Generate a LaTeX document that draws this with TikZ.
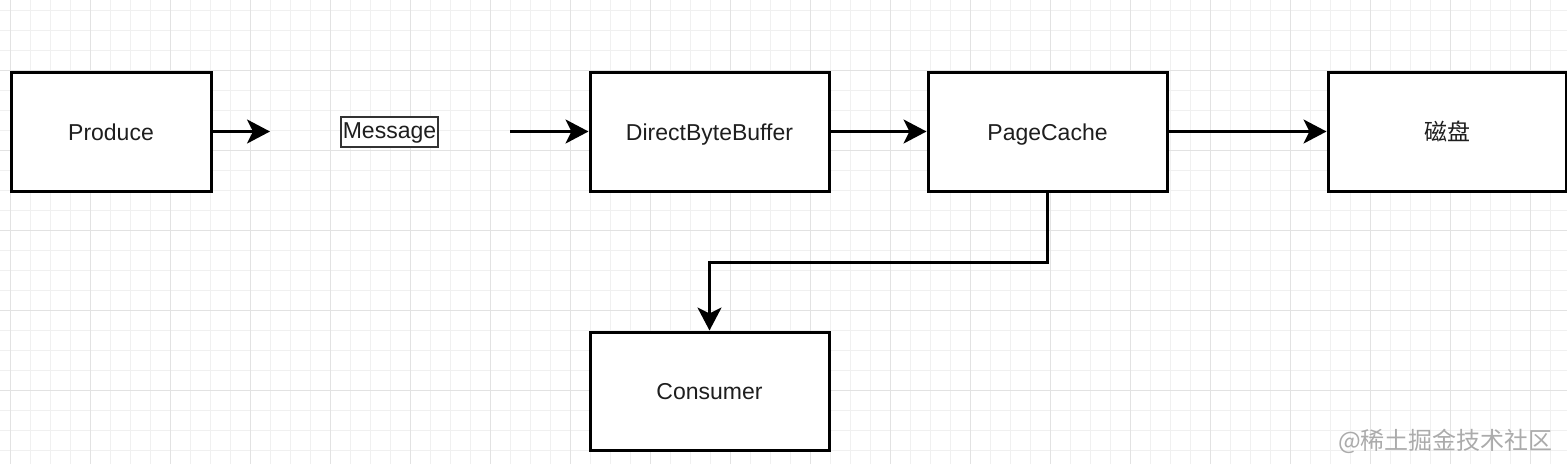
\documentclass[tikz,border=0pt]{standalone}
\usepackage{fontspec}
\setmainfont{Liberation Sans}
\newfontfamily\cjk{Noto Sans CJK SC}
\usetikzlibrary{arrows.meta}
\definecolor{gridminor}{HTML}{F0F0F0}
\definecolor{gridmajor}{HTML}{E2E2E2}
\definecolor{txt}{HTML}{1E1E1E}
\definecolor{wm}{HTML}{ABABAB}
\tikzset{
  box/.style={draw=black, line width=3pt, fill=white, inner sep=0pt,
    text height=17pt, text depth=0pt,
    font=\fontsize{23}{26}\selectfont, text=txt},
  msgbox/.style={draw=black!80, line width=1.5pt, fill=white, inner sep=0pt,
    text height=17pt, text depth=5pt,
    minimum width=97pt, minimum height=30pt, font=\fontsize{23}{26}\selectfont, text=txt},
  conn/.style={line width=3pt, draw=black,
    -{Stealth[length=23pt, width=24pt, inset=6pt]}},
  minorline/.style={draw=gridminor, line width=1pt},
  majorline/.style={draw=gridmajor, line width=1pt}
}
\begin{document}
\begin{tikzpicture}[x=1pt, y=-1pt]
\useasboundingbox (0,0) rectangle (1567,464);
\fill[white] (0,0) rectangle (1567,464);
% grid
\foreach \i in {0,...,77} \draw[minorline] (10.7+20*\i,0) -- (10.7+20*\i,464);
\foreach \i in {0,...,22} \draw[minorline] (0,10.7+20*\i) -- (1567,10.7+20*\i);
\foreach \i in {0,...,19} \draw[majorline] (10.7+80*\i,0) -- (10.7+80*\i,464);
\foreach \i in {0,...,4} \draw[majorline] (0,70.7+80*\i) -- (1567,70.7+80*\i);
% nodes
\node[box, minimum width=200pt, minimum height=119pt] (prod) at (111,131.5) {Produce};
\node[msgbox] (msg) at (389.5,132) {Message};
\node[box, minimum width=239pt, minimum height=119pt] (dbb) at (709.5,131.5) {DirectByteBuffer};
\node[box, minimum width=239pt, minimum height=119pt] (pc) at (1047.5,131.5) {PageCache};
\node[box, minimum width=238pt, minimum height=119pt] (disk) at (1447,131.5) {\cjk 磁盘};
\node[box, minimum width=239pt, minimum height=118pt] (cons) at (709.5,391) {Consumer};
% free ends
\coordinate (a1end) at (270,131.5);
\coordinate (a2start) at (510,131.5);
% connectors
\draw[conn] (prod.east) -- (a1end);
\draw[conn] (a2start) -- (dbb.west);
\draw[conn] (dbb.east) -- (pc.west);
\draw[conn] (pc.east) -- (disk.west);
\draw[conn] (pc.south) -- (pc.south |- 0,262) -| (cons.north);
% watermark
\node[text=wm, font=\cjk\fontsize{24}{26}\selectfont, anchor=east, inner sep=0pt] (wmark) at (1553,441) {@稀土掘金技术社区};
\end{tikzpicture}
\end{document}
